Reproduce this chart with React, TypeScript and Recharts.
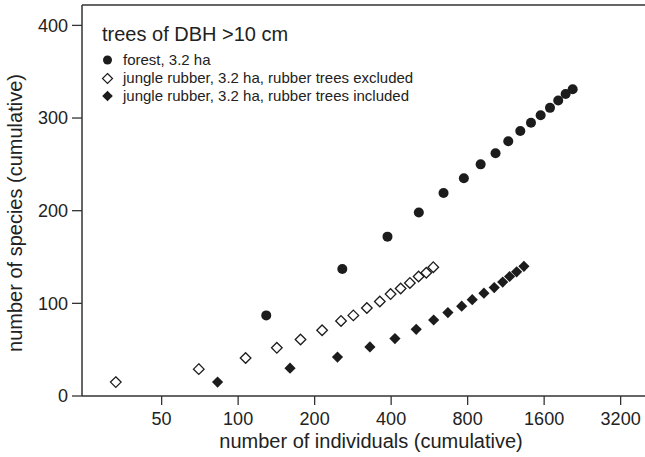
import React from 'react';
import { ScatterChart, Scatter, XAxis, YAxis, ReferenceLine, Legend } from 'recharts';

// cumulative number of individuals (x) vs cumulative number of species (y)
const xTicks = [50, 100, 200, 400, 800, 1600, 3200];
const yTicks = [0, 100, 200, 300, 400];

const forestN = [129, 257, 387, 514, 643, 773, 900, 1030, 1156, 1289, 1420, 1550, 1687, 1818, 1944, 2072];
const forestS = [87, 137, 172, 198, 219, 235, 250, 262, 275, 286, 295, 303, 311, 319, 326, 331];

const exclN = [33, 70, 107, 142, 176, 214, 254, 284, 321, 361, 398, 436, 474, 513, 550, 586];
const exclS = [15, 29, 41, 52, 61, 71, 81, 87, 95, 102, 110, 116, 122, 129, 133, 139];

const inclN = [83, 160, 246, 330, 414, 502, 588, 669, 758, 834, 927, 1018, 1099, 1170, 1247, 1332];
const inclS = [15, 30, 42, 53, 62, 72, 82, 90, 97, 104, 111, 117, 123, 129, 134, 140];

const legendTitle = 'trees of DBH >10 cm';
const legendLabels = [
  'forest, 3.2 ha',
  'jungle rubber, 3.2 ha, rubber trees excluded',
  'jungle rubber, 3.2 ha, rubber trees included',
];

const INK = '#1c1c1c';
const AXIS = '#333';
const FONT = '"Liberation Sans", Arial, Helvetica, sans-serif';

const zip = (xs: number[], ys: number[]) => xs.map((n, i) => ({ n, s: ys[i] }));

const forest = zip(forestN, forestS);
const excluded = zip(exclN, exclS);
const included = zip(inclN, inclS);

const diamondPath = (cx: number, cy: number, h: number) =>
  `M${cx},${cy - h}L${cx + h},${cy}L${cx},${cy + h}L${cx - h},${cy}Z`;

const DotShape = (p: any) => <circle cx={p.cx} cy={p.cy} r={5} fill={INK} />;
const OpenDiamond = (p: any) => (
  <path d={diamondPath(p.cx, p.cy, 5.3)} fill="#fff" stroke={INK} strokeWidth={1.3} />
);
const FilledDiamond = (p: any) => <path d={diamondPath(p.cx, p.cy, 5.6)} fill={INK} />;

const LegendBox = () => {
  const rows = [60, 78.5, 96];
  return (
    <svg width={430} height={110} style={{ display: 'block', fontFamily: FONT }}>
      <text x={102} y={40.5} fontSize={20} fill="#222">{legendTitle}</text>
      <circle cx={107.5} cy={rows[0]} r={4.5} fill={INK} />
      <path d={diamondPath(107.5, rows[1], 5)} fill="#fff" stroke={INK} strokeWidth={1.2} />
      <path d={diamondPath(107.5, rows[2], 5.3)} fill={INK} />
      {legendLabels.map((l, i) => (
        <text key={l} x={123} y={rows[i] + 4.8} fontSize={15} fill="#222">{l}</text>
      ))}
    </svg>
  );
};

export default function App() {
  return (
    <div style={{ position: 'absolute', left: 0, top: 0, width: 645, height: 457, background: '#fff' }}>
      <ScatterChart
        width={645}
        height={457}
        margin={{ top: 5, right: 0, bottom: 0, left: 0 }}
        style={{ fontFamily: FONT }}
      >
        <XAxis
          dataKey="n"
          type="number"
          scale="log"
          domain={[24.3, 3990]}
          allowDataOverflow
          ticks={xTicks}
          height={61}
          tickSize={9}
          tickMargin={7}
          axisLine={{ stroke: AXIS, strokeWidth: 1.5 }}
          tickLine={{ stroke: AXIS, strokeWidth: 1.3 }}
          tick={{ fontSize: 18, fill: '#222' }}
          label={() => (
            <text x={371} y={448} textAnchor="middle" fontSize={20} fill="#222">
              number of individuals (cumulative)
            </text>
          )}
        />
        <YAxis
          dataKey="s"
          type="number"
          domain={[0, 422]}
          allowDataOverflow
          ticks={yTicks}
          width={82}
          tickSize={10}
          tickMargin={4}
          axisLine={{ stroke: AXIS, strokeWidth: 1.5 }}
          tickLine={{ stroke: AXIS, strokeWidth: 1.3 }}
          tick={{ fontSize: 18, fill: '#222' }}
          label={() => (
            <text x={22} y={213} textAnchor="middle" fontSize={20} fill="#222" transform="rotate(-90, 22, 213)">
              number of species (cumulative)
            </text>
          )}
        />
        <ReferenceLine y={422} stroke={AXIS} strokeWidth={1.5} />
        <Legend
          layout="vertical"
          align="center"
          verticalAlign="middle"
          wrapperStyle={{ left: 0, top: 0, width: 430, height: 110 }}
          content={() => <LegendBox />}
        />
        <Scatter name="forest" data={forest} shape={DotShape} isAnimationActive={false} />
        <Scatter name="excluded" data={excluded} shape={OpenDiamond} isAnimationActive={false} />
        <Scatter name="included" data={included} shape={FilledDiamond} isAnimationActive={false} />
      </ScatterChart>
    </div>
  );
}
